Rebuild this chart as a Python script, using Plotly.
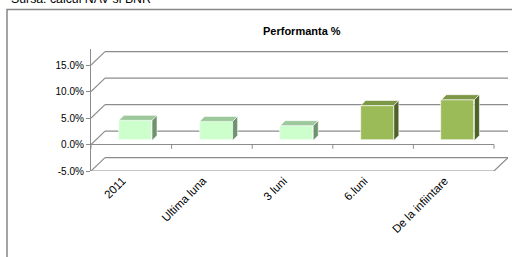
import plotly.graph_objects as go

categories = ["2011", "Ultima luna", "3 luni", "6.luni", "De la infiintare"]
values = [3.8, 3.6, 2.8, 6.6, 7.7]
y_ticks = [-5, 0, 5, 10, 15]
y_ticklabels = ["-5.0%", "0.0%", "5.0%", "10.0%", "15.0%"]

front_colors = ["#CCFFCC", "#CCFFCC", "#CCFFCC", "#9BBB59", "#9BBB59"]
top_colors = ["#9CC89C", "#9CC89C", "#9CC89C", "#7C9745", "#7C9745"]
side_colors = ["#6E936E", "#6E936E", "#6E936E", "#4F6228", "#4F6228"]

# geometry (data units)
X0, X1 = -0.5, len(categories) - 0.5
YMIN, YMAX = -5, 18.02
DXB, DYB = 0.1737, 2.53          # back wall offset
BX, BY = 0.3 * DXB, 0.3 * DYB    # bar front plane offset
DDX, DDY = 0.062, 0.94           # bar depth
BW = 0.41
LABEL_SHIFT = -0.11              # category labels sit slightly left of centre
GRID = "#8C8C8C"

fig = go.Figure()
fig.add_trace(go.Bar(
    x=[i + BX for i in range(len(categories))], y=values, base=BY, width=BW,
    marker=dict(color=front_colors, line=dict(color="white", width=0.6)),
    hoverinfo="skip", showlegend=False))

shapes = []
# back wall gridlines + left wall diagonals
for v in y_ticks:
    shapes.append(dict(type="line", xref="x", yref="y", layer="below",
                       x0=X0 + DXB, x1=X1 + DXB, y0=v + DYB, y1=v + DYB,
                       line=dict(color=GRID, width=1.2)))
    shapes.append(dict(type="line", xref="x", yref="y", layer="below",
                       x0=X0, x1=X0 + DXB, y0=v, y1=v + DYB,
                       line=dict(color=GRID, width=1.2)))
# floor right diagonal
shapes.append(dict(type="line", xref="x", yref="y", layer="below",
                   x0=X1, x1=X1 + DXB, y0=YMIN, y1=YMIN + DYB,
                   line=dict(color=GRID, width=1.2)))
# front lines at 0 and -5 with tick marks
for v in [0, YMIN]:
    shapes.append(dict(type="line", xref="x", yref="y", layer="below",
                       x0=X0, x1=X1, y0=v, y1=v, line=dict(color=GRID, width=1.2)))
    for k in range(len(categories) + 1):
        xb = X0 + k
        shapes.append(dict(type="line", xref="x", yref="y", layer="below",
                           x0=xb, x1=xb, y0=v, y1=v - 0.8,
                           line=dict(color=GRID, width=1)))
# bar top and side faces
for i, v in enumerate(values):
    xl = i + BX - BW / 2
    xr = i + BX + BW / 2
    yb = BY
    yt = BY + v
    top = f"M{xl},{yt} L{xl + DDX},{yt + DDY} L{xr + DDX},{yt + DDY} L{xr},{yt} Z"
    side = f"M{xr},{yb} L{xr + DDX},{yb + DDY} L{xr + DDX},{yt + DDY} L{xr},{yt} Z"
    shapes.append(dict(type="path", xref="x", yref="y", path=top,
                       fillcolor=top_colors[i], line=dict(color="white", width=0.6)))
    shapes.append(dict(type="path", xref="x", yref="y", path=side,
                       fillcolor=side_colors[i], line=dict(color="white", width=0.6)))

# outer chart border (pixels -> paper)
def px(x):
    return (x - 91) / 417
def py(y):
    return (171 - y) / 122

shapes.append(dict(type="rect", xref="paper", yref="paper",
                   x0=px(7), x1=px(530), y0=py(9.5), y1=py(280),
                   line=dict(color="#878787", width=1.5), fillcolor="rgba(0,0,0,0)"))

annotations = [
    dict(text="<b>Performanta %</b>", xref="paper", yref="paper", x=px(302), y=py(31),
         xanchor="center", yanchor="middle", showarrow=False,
         font=dict(family="Liberation Sans, Arial", size=11, color="#000")),
    dict(text="Sursa: calcul NAV si BNR", xref="paper", yref="paper", x=px(9), y=py(8.5),
         xanchor="left", yanchor="bottom", showarrow=False,
         font=dict(family="Liberation Sans, Arial", size=12.3, color="#000")),
]

fig.update_layout(
    width=512, height=257,
    margin=dict(l=91, r=4, t=49, b=86),
    paper_bgcolor="white", plot_bgcolor="white",
    shapes=shapes, annotations=annotations,
    xaxis=dict(range=[X0, X1 + DXB], tickmode="array",
               tickvals=[i + LABEL_SHIFT for i in range(len(categories))], ticktext=categories,
               tickangle=-45, showgrid=False, zeroline=False, showline=False,
               ticks="", ticklabelstandoff=0,
               tickfont=dict(family="Liberation Sans, Arial", size=11.5, color="#000000")),
    yaxis=dict(range=[YMIN, YMAX], tickmode="array", tickvals=y_ticks, ticktext=y_ticklabels,
               showgrid=False, zeroline=False, showline=True, linecolor=GRID, linewidth=1.2,
               ticks="outside", ticklen=4, tickcolor=GRID,
               tickfont=dict(family="Liberation Sans, Arial", size=10, color="#000000")),
    bargap=0, showlegend=False,
)

fig.write_html("out.html", config={"displayModeBar": False},
               post_script="document.body.style.margin='0';document.body.style.overflow='hidden';")
